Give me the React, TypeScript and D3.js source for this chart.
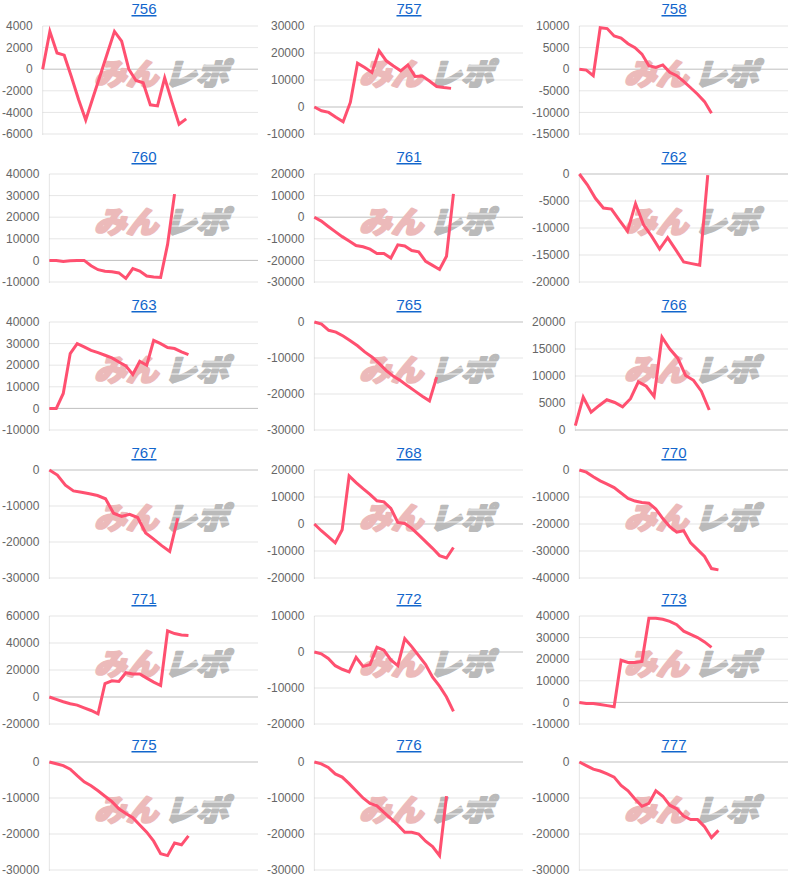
import React from "react";
import * as d3 from "d3";

const titles = ["756", "757", "758", "760", "761", "762", "763", "765", "766", "767", "768", "770", "771", "772", "773", "775", "776", "777"];

const s756 = [0, 3500, 1500, 1300, -700, -2800, -4700, -2650, -600, 1450, 3500, 2600, 0, -1050, -1250, -3300, -3400, -800, -3000, -5100, -4600];
const s757 = [0, -1400, -2000, -3800, -5500, 1700, 16200, 14600, 12800, 20800, 17100, 15200, 13400, 15600, 11300, 11500, 9600, 7600, 7200, 6900];
const s758 = [0, -200, -1500, 9600, 9400, 7700, 7200, 5900, 5000, 3500, 800, 400, 1000, -700, -1500, -2800, -4300, -5800, -7500, -10200];
const s760 = [0, 0, -500, -200, 0, 0, -2500, -4300, -5000, -5300, -5800, -8300, -3800, -4900, -7200, -7700, -7900, 7400, 30700];
const s761 = [0, -1800, -4300, -6700, -9000, -11000, -13100, -13700, -14800, -16800, -16800, -18900, -12800, -13300, -15400, -16000, -20400, -22300, -24200, -18100, 10800];
const s762 = [0, -2000, -4500, -6300, -6500, -8600, -10600, -5500, -9400, -11500, -13900, -11800, -14000, -16300, -16600, -16900, -200];
const s763 = [0, 0, 6900, 25400, 30000, 28500, 26900, 25800, 24600, 23400, 21500, 19700, 15700, 21800, 20000, 31500, 30000, 28200, 27700, 26200, 24900];
const s765 = [0, -600, -2300, -2800, -3900, -5200, -6600, -8300, -9700, -11500, -13500, -15100, -16300, -17800, -19200, -20600, -21900, -15300];
const s766 = [800, 6100, 3300, 4500, 5600, 5100, 4300, 5800, 8900, 8100, 6200, 17200, 15000, 13300, 10100, 9200, 7200, 3700];
const s767 = [0, -1400, -4200, -5800, -6200, -6600, -7100, -8000, -12000, -12900, -12300, -13200, -17500, -19200, -21000, -22600, -13400];
const s768 = [0, -2500, -4700, -7000, -2100, 17800, 15300, 13100, 11000, 8600, 8200, 5800, 600, 200, -1600, -4000, -6500, -9000, -11700, -12600, -8700];
const s770 = [0, -800, -2500, -4000, -5200, -6500, -8500, -10500, -11500, -12000, -12300, -14500, -18000, -21000, -23000, -22500, -27000, -29500, -32000, -36500, -37000];
const s771 = [0, -1800, -3500, -5000, -6000, -8000, -10000, -12500, 10000, 12000, 11500, 18000, 17000, 17000, 14000, 11000, 8500, 49000, 47000, 46000, 45500];
const s772 = [0, -500, -1800, -3800, -4800, -5500, -1500, -4000, -3500, 1300, 500, -2200, -3800, 3700, 1500, -1000, -3500, -7000, -9500, -12500, -16500];
const s773 = [0, -500, -500, -1000, -1500, -2000, 19500, 18500, 18500, 19000, 39000, 39000, 38500, 37500, 36000, 33000, 31500, 30000, 28000, 25500];
const s775 = [0, -500, -1000, -2000, -3800, -5500, -6600, -8000, -9500, -11000, -13000, -14300, -15500, -17500, -19500, -22000, -25500, -26000, -22500, -23000, -20500];
const s776 = [0, -500, -1500, -3300, -4200, -6000, -8000, -10000, -11500, -12200, -14000, -15700, -17500, -19500, -19500, -20000, -22000, -23500, -26000, -9500];
const s777 = [0, -1000, -2000, -2500, -3300, -4200, -6500, -8000, -10300, -12300, -11500, -8000, -9500, -12000, -13000, -15000, -16000, -16000, -18000, -21000, -19000];

const seriesList = [s756, s757, s758, s760, s761, s762, s763, s765, s766, s767, s768, s770, s771, s772, s773, s775, s776, s777];

// number of x categories (days) on each chart's x axis
const dayCounts = [31, 30, 31, 31, 31, 27, 31, 30, 28, 27, 31, 31, 31, 31, 31, 31, 31, 31];

const yMins = [-6000, -10000, -15000, -10000, -30000, -20000, -10000, -30000, 0, -30000, -20000, -40000, -20000, -20000, -10000, -30000, -30000, -30000];
const yMaxs = [4000, 30000, 10000, 40000, 20000, 0, 40000, 0, 20000, 0, 20000, 0, 60000, 10000, 40000, 0, 0, 0];
const ySteps = [2000, 10000, 5000, 10000, 10000, 5000, 10000, 10000, 5000, 10000, 10000, 10000, 20000, 10000, 10000, 10000, 10000, 10000];

const W = 800;
const H = 882;
const colLefts = [0, 265, 530];
const rowTops = [0, 148, 296, 444, 590, 736];
const FONT = "'Liberation Sans', Arial, Helvetica, sans-serif";
const LINE_COLOR = "rgb(255, 80, 112)";
const PINK = "rgb(236, 186, 186)";
const GRAY = "rgb(186, 186, 186)";

function labelWidth(s: string) {
  let w = 0;
  for (const ch of s) w += ch === "-" ? 4.0 : 6.67;
  return w;
}

function Panel({ idx }: { idx: number }) {
  const col = idx % 3;
  const row = Math.floor(idx / 3);
  const left = colLefts[col];
  const top = rowTops[row];
  const vals = seriesList[idx];
  const ticks = d3.range(yMins[idx], yMaxs[idx] + ySteps[idx] / 2, ySteps[idx]);
  const maxW = d3.max(ticks, (t) => labelWidth(String(t))) as number;
  const axisX = left + 2 + maxW + 10;
  const right = left + 258;
  const plotTop = top + 26;
  const plotBottom = top + 134;

  const x = d3.scaleLinear().domain([0, dayCounts[idx] - 1]).range([axisX, right]);
  const y = d3.scaleLinear().domain([yMins[idx], yMaxs[idx]]).range([plotBottom, plotTop]);
  const line = d3
    .line<number>()
    .x((_, i) => x(i))
    .y((d) => y(d));

  const wmX = right - 172;
  const wmY = top + 85;

  return (
    <g>
      <text
        x={left + 144}
        y={top + 14}
        textAnchor="middle"
        fontFamily={FONT}
        fontSize={15}
        fill="#1266cc"
        textDecoration="underline"
      >
        {titles[idx]}
      </text>
      {ticks.map((t) => (
        <g key={t}>
          <line
            x1={axisX}
            x2={right}
            y1={y(t)}
            y2={y(t)}
            stroke={t === 0 ? "rgba(0,0,0,0.25)" : "rgba(0,0,0,0.1)"}
            strokeWidth={1}
          />
          <text
            x={axisX - 10}
            y={y(t)}
            dy="0.35em"
            textAnchor="end"
            fontFamily={FONT}
            fontSize={12}
            fill="#666"
          >
            {t}
          </text>
        </g>
      ))}
      <line x1={axisX} x2={axisX} y1={plotTop} y2={plotBottom + 1} stroke="rgba(0,0,0,0.1)" strokeWidth={1} />
      <g transform={`translate(${wmX}, ${wmY}) skewX(-16)`}>
        <text
          x={8}
          y={0}
          fontFamily="'Noto Sans CJK JP', sans-serif"
          fontWeight={900}
          fontSize={30}
          fill={PINK}
          stroke={PINK}
          strokeWidth={2.2}
          strokeLinejoin="round"
          textLength={64}
          lengthAdjust="spacingAndGlyphs"
        >
          みん
        </text>
        <text
          x={78}
          y={0}
          fontFamily="'Noto Sans CJK JP', sans-serif"
          fontWeight={900}
          fontSize={30}
          fill={GRAY}
          stroke={GRAY}
          strokeWidth={2.2}
          strokeLinejoin="round"
          textLength={64}
          lengthAdjust="spacingAndGlyphs"
        >
          レポ
        </text>
        {[-19, -13, -7].map((dy) => (
          <line key={dy} x1={80} x2={150} y1={dy} y2={dy} stroke="white" strokeWidth={1.2} opacity={0.85} />
        ))}
      </g>
      <path d={line(vals) || ""} fill="none" stroke={LINE_COLOR} strokeWidth={3} strokeLinejoin="miter" />
    </g>
  );
}

export default function App() {
  return (
    <svg
      width={W}
      height={H}
      viewBox={`0 0 ${W} ${H}`}
      style={{ position: "absolute", left: 0, top: 0, background: "#fff" }}
    >
      <rect width={W} height={H} fill="#fff" />
      {seriesList.map((_, i) => (
        <Panel key={i} idx={i} />
      ))}
    </svg>
  );
}
